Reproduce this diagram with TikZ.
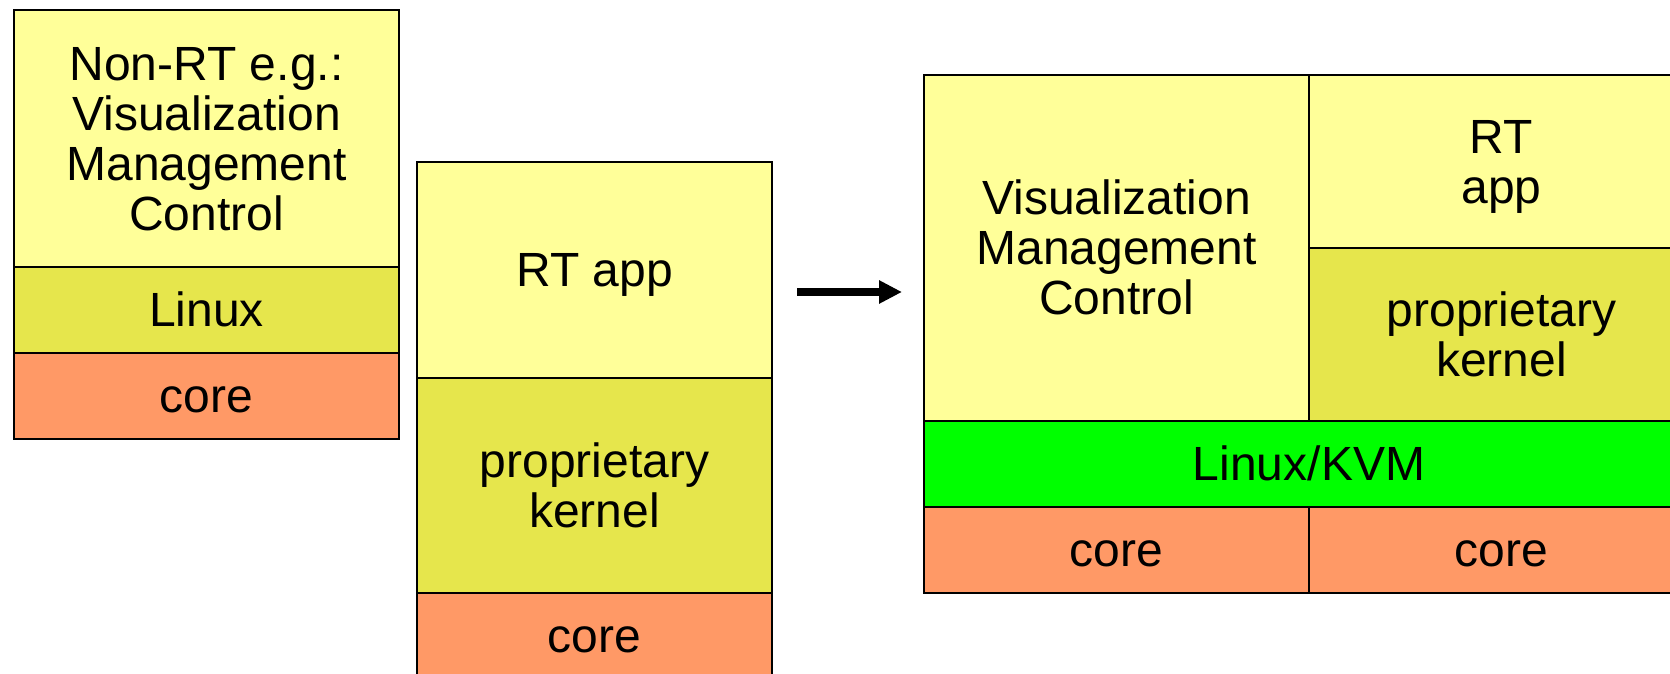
\documentclass[tikz,border=0pt]{standalone}
\usepackage{fontspec}
\setmainfont{Liberation Sans}
\usetikzlibrary{arrows.meta}
\definecolor{lightyel}{RGB}{255,255,153}
\definecolor{oliveyel}{RGB}{230,230,76}
\definecolor{coreorange}{RGB}{255,153,102}
\definecolor{kvmgreen}{RGB}{0,255,0}
\newcommand\tS{\rule{0pt}{0.905em}}
\newcommand\bS{\rule[-0.212em]{0pt}{0.212em}}
\tikzset{
  layer/.style={draw=black, line width=1.5pt, inner sep=0pt, align=center,
    font=\fontsize{48}{50}\selectfont},
  appbox/.style={layer, fill=lightyel},
  osbox/.style={layer, fill=oliveyel},
  corebox/.style={layer, fill=coreorange},
  kvmbox/.style={layer, fill=kvmgreen},
  bigarrow/.style={line width=8pt, -{Triangle[length=23pt,width=22pt]}}
}
\begin{document}
\begin{tikzpicture}[x=1pt,y=-1pt]
\useasboundingbox (0,0) rectangle (1670,674);
\clip (0,0) rectangle (1670,674);
% left stack
\node[appbox, minimum width=385pt, minimum height=257pt] (nonrt) at (206.5,138.5)
  {\tS Non-RT e.g.:\\Visualization\\Management\\Control\bS};
\node[osbox, minimum width=385pt, minimum height=86pt] (linux) at (206.5,310) {\tS Linux\bS};
\node[corebox, minimum width=385pt, minimum height=86pt] (core1) at (206.5,396) {\tS core\bS};
% middle stack
\node[appbox, minimum width=355pt, minimum height=216pt] (rtapp) at (594.5,270) {\tS RT app\bS};
\node[osbox, minimum width=355pt, minimum height=215pt] (propk) at (594.5,485.5) {\tS proprietary\\kernel\bS};
\node[corebox, minimum width=355pt, minimum height=86pt] (core2) at (594.5,636) {\tS core\bS};
% right stack
\node[appbox, minimum width=385pt, minimum height=346pt] (vmc) at (1116.5,248)
  {\tS Visualization\\Management\\Control\bS};
\node[appbox, minimum width=385pt, minimum height=173pt] (rtapp2) at (1501.5,161.5) {\tS RT\\app\bS};
\node[osbox, minimum width=385pt, minimum height=173pt] (propk2) at (1501.5,334.5) {\tS proprietary\\kernel\bS};
\node[kvmbox, minimum width=770pt, minimum height=86pt] (kvm) at (1309,464) {\tS Linux/KVM\bS};
\node[corebox, minimum width=385pt, minimum height=86pt] (core3) at (1116.5,550) {\tS core\bS};
\node[corebox, minimum width=385pt, minimum height=86pt] (core4) at (1501.5,550) {\tS core\bS};
% arrow
\coordinate (arrS) at (797,292);
\coordinate (arrE) at (902,292);
\draw[bigarrow] (arrS) -- (arrE);
\end{tikzpicture}
\end{document}
